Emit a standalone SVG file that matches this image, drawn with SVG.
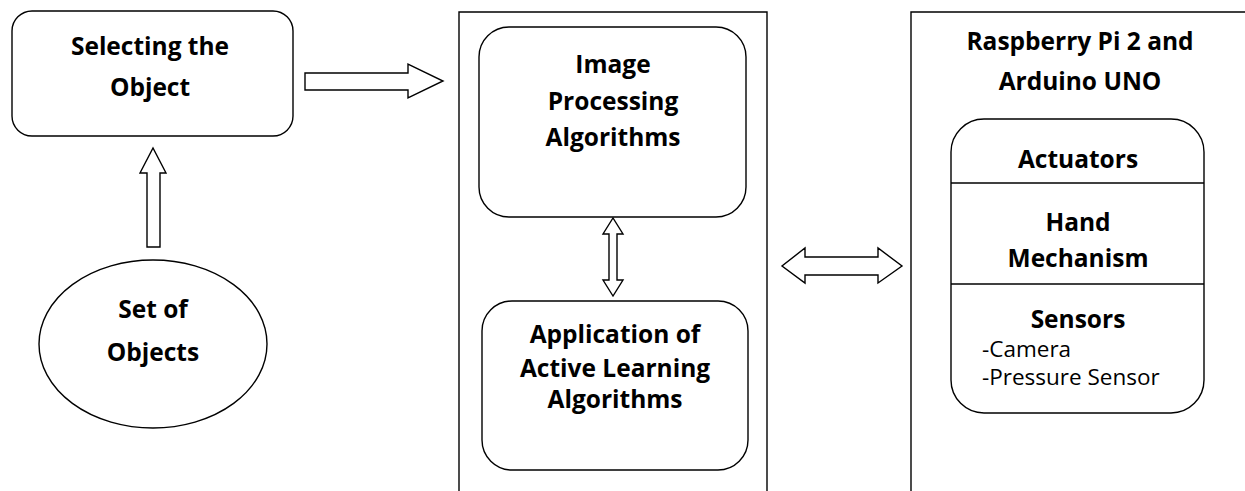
<svg xmlns="http://www.w3.org/2000/svg" width="1245" height="491" viewBox="0 0 1245 491">
<style>
.s{fill:#fff;stroke:#000;stroke-width:1.4}
.ln{fill:none;stroke:#000;stroke-width:1.4}
.b{font-family:"Open Sans",Lato,"Liberation Sans",sans-serif;font-weight:bold;font-size:24.5px;fill:#000;text-anchor:middle}
.r{font-family:"Open Sans",Lato,"Liberation Sans",sans-serif;font-size:22.5px;fill:#000}
</style>
<rect width="1245" height="491" fill="#fff"/>
<g id="processing-container">
<path class="ln" d="M459,491 V12 H767 V491"/>
</g>
<g id="hardware-container">
<path class="ln" d="M911,491 V12 H1245"/>
<text class="b" x="1080" y="50">Raspberry Pi 2 and</text>
<text class="b" x="1080" y="90">Arduino UNO</text>
</g>
<g id="selecting">
<rect class="s" x="12" y="11" width="281" height="125" rx="20"/>
<text class="b" x="150" y="55">Selecting the</text>
<text class="b" x="150" y="96">Object</text>
</g>
<g id="set-of-objects">
<ellipse class="s" cx="153" cy="344" rx="114" ry="84"/>
<text class="b" x="153" y="318">Set of</text>
<text class="b" x="153" y="361">Objects</text>
</g>
<g id="image-processing">
<rect class="s" x="479" y="27" width="267" height="190" rx="30"/>
<text class="b" x="613" y="73">Image</text>
<text class="b" x="613" y="110">Processing</text>
<text class="b" x="613" y="146">Algorithms</text>
</g>
<g id="active-learning">
<rect class="s" x="482" y="301" width="266" height="169" rx="30"/>
<text class="b" x="615" y="343">Application of</text>
<text class="b" x="615" y="377">Active Learning</text>
<text class="b" x="615" y="408">Algorithms</text>
</g>
<g id="hardware">
<rect class="s" x="951" y="119" width="253" height="294" rx="33"/>
<line class="ln" x1="951" y1="183" x2="1204" y2="183"/>
<line class="ln" x1="951" y1="284" x2="1204" y2="284"/>
<text class="b" x="1078" y="168">Actuators</text>
<text class="b" x="1078" y="231">Hand</text>
<text class="b" x="1078" y="267">Mechanism</text>
<text class="b" x="1078" y="328">Sensors</text>
<text class="r" x="982" y="357">-Camera</text>
<text class="r" x="982" y="385">-Pressure Sensor</text>
</g>
<g id="connectors">
<path class="s" d="M305,73 H408 V64 L443,81 L408,98 V90 H305 Z"/>
<path class="s" d="M147,247 V173 H140 L153,148 L166,173 H160 V247 Z"/>
<path class="s" d="M609,234 H603 L613,218 L623,234 H617 V280 H623 L613,296 L603,280 H609 Z"/>
<path class="s" d="M805,257 V248 L782,266 L805,283 V275 H878 V283 L902,266 L878,248 V257 Z"/>
</g>
</svg>
